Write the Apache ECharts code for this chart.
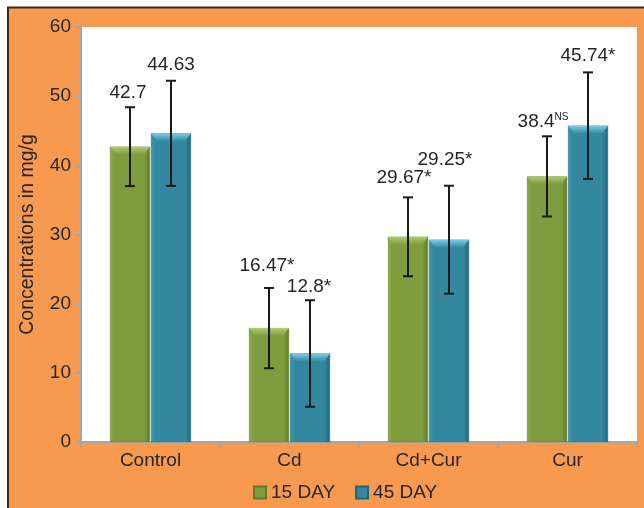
<!DOCTYPE html>
<html><head><meta charset="utf-8">
<script src="https://cdn.jsdelivr.net/npm/echarts@6/dist/echarts.min.js"></script>
<style>html,body{margin:0;padding:0;background:#fff}#c{width:644px;height:508px}</style>
</head><body><div id="c"></div>
<script>
const categories = ['Control', 'Cd', 'Cd+Cur', 'Cur'];
const seriesNames = ['15 DAY', '45 DAY'];
const day15 = [42.7, 16.47, 29.67, 38.4];
const day45 = [44.63, 12.8, 29.25, 45.74];
const err15 = [5.7, 5.8, 5.7, 5.8];
const err45 = [7.6, 7.7, 7.8, 7.7];
const labels15 = ['42.7', '16.47*', '29.67*', '38.4{s|NS}'];
const labels45 = ['44.63', '12.8*', '29.25*', '45.74*'];
const yMin = 0, yMax = 60, yStep = 10;

// label layout tweaks (pixels above error-bar cap, horizontal shift)
const liftPx15 = [5, 13, 10, 5];
const liftPx45 = [6, 4, 16, 7];
const shiftPx15 = [-2, -2, -4, -4];
const shiftPx45 = [0, -1, -4, 0];

const FONT = 'Liberation Sans, Arial, sans-serif';
const TXT = '#262626';
const green = {light: '#8cab4a', edge: '#5f7b2b', face: '#7f9c3e', top: '#b0cc70'};
const blue = {light: '#3f98b0', edge: '#1f6679', face: '#33889f', top: '#7ccfe4'};
const BW = 40, HALF = 20.5;

function grad(c) {
  return new echarts.graphic.LinearGradient(0, 0, 1, 0, [
    {offset: 0, color: c.light}, {offset: 0.12, color: c.face},
    {offset: 0.86, color: c.face}, {offset: 1, color: c.edge}]);
}

const overlay = [];
for (let i = 0; i < categories.length; i++) {
  overlay.push([i, day15[i], err15[i], 0, labels15[i], liftPx15[i], shiftPx15[i]]);
  overlay.push([i, day45[i], err45[i], 1, labels45[i], liftPx45[i], shiftPx45[i]]);
}

const chart = echarts.init(document.getElementById('c'), null, {renderer: 'canvas'});
chart.setOption({
  backgroundColor: '#ffffff',
  animation: false,
  graphic: [
    {type: 'rect', z: -10, shape: {x: 8, y: 8, width: 636, height: 500}, style: {fill: '#f79a50'}},
    {type: 'line', z: -9, shape: {x1: 7, y1: 7.5, x2: 644, y2: 7.5}, style: {stroke: '#3a2a1c', lineWidth: 2}},
    {type: 'line', z: -9, shape: {x1: 8, y1: 7, x2: 8, y2: 508}, style: {stroke: '#3a2a1c', lineWidth: 2}}
  ],
  grid: {left: 81, right: 7, top: 27, bottom: 66, show: true, backgroundColor: '#ffffff', borderWidth: 0},
  legend: {
    data: seriesNames, bottom: 1, left: 248, itemWidth: 12, itemHeight: 12, itemGap: 20,
    icon: 'rect',
    textStyle: {fontFamily: FONT, fontSize: 19, color: TXT}
  },
  xAxis: {
    type: 'category', data: categories,
    axisLine: {lineStyle: {color: '#a6a6a6', width: 2}},
    axisTick: {show: true, length: 6, lineStyle: {color: '#a6a6a6', width: 2}},
    axisLabel: {fontFamily: FONT, fontSize: 19, color: TXT, margin: 9}
  },
  yAxis: {
    type: 'value', min: yMin, max: yMax, interval: yStep,
    name: 'Concentrations in mg/g', nameLocation: 'middle', nameGap: 43, nameRotate: 90,
    nameTextStyle: {fontFamily: FONT, fontSize: 19.5, color: TXT},
    axisLine: {show: true, lineStyle: {color: '#a6a6a6', width: 2}},
    axisTick: {show: true, length: 5, lineStyle: {color: '#a6a6a6', width: 2}},
    splitLine: {show: false},
    axisLabel: {fontFamily: FONT, fontSize: 19, color: TXT, margin: 10}
  },
  series: [
    {name: seriesNames[0], type: 'bar', data: day15, barWidth: BW, barGap: '2.5%',
     itemStyle: {color: grad(green), borderColor: green.edge, borderWidth: 0.5}},
    {name: seriesNames[1], type: 'bar', data: day45, barWidth: BW,
     itemStyle: {color: grad(blue), borderColor: blue.edge, borderWidth: 0.5}},
    {type: 'custom', data: overlay, z: 5, silent: true,
     renderItem: function (params, api) {
       const row = overlay[params.dataIndex];
       const i = row[0], v = row[1], e = row[2], s = row[3];
       const base = api.coord([i, v]);
       const cx = base[0] + (s === 0 ? -HALF : HALF);
       const yTop = base[1];
       const yHi = api.coord([i, v + e])[1];
       const yLo = api.coord([i, v - e])[1];
       const c = s === 0 ? green : blue;
       const x0 = cx - BW / 2, x1 = cx + BW / 2;
       return {type: 'group', children: [
         {type: 'polygon', shape: {points: [[x0, yTop], [x1, yTop], [x1 - 6, yTop + 8], [x0 + 6, yTop + 8]]},
          style: {fill: new echarts.graphic.LinearGradient(0, 0, 0, 1, [
            {offset: 0, color: c.top}, {offset: 1, color: c.face}])}},
         {type: 'line', shape: {x1: cx, y1: yHi, x2: cx, y2: yLo}, style: {stroke: '#1a1a1a', lineWidth: 2}},
         {type: 'line', shape: {x1: cx - 5, y1: yHi, x2: cx + 5, y2: yHi}, style: {stroke: '#1a1a1a', lineWidth: 2}},
         {type: 'line', shape: {x1: cx - 5, y1: yLo, x2: cx + 5, y2: yLo}, style: {stroke: '#1a1a1a', lineWidth: 2}},
         {type: 'text', x: cx + row[6], y: yHi - row[5],
          style: {text: row[4], fontFamily: FONT, fontSize: 19, fill: TXT, align: 'center', verticalAlign: 'bottom',
                  rich: {s: {fontFamily: FONT, fontSize: 10, fill: TXT, padding: [0, 0, 9, 0]}}}}
       ]};
     }}
  ]
});
</script></body></html>
